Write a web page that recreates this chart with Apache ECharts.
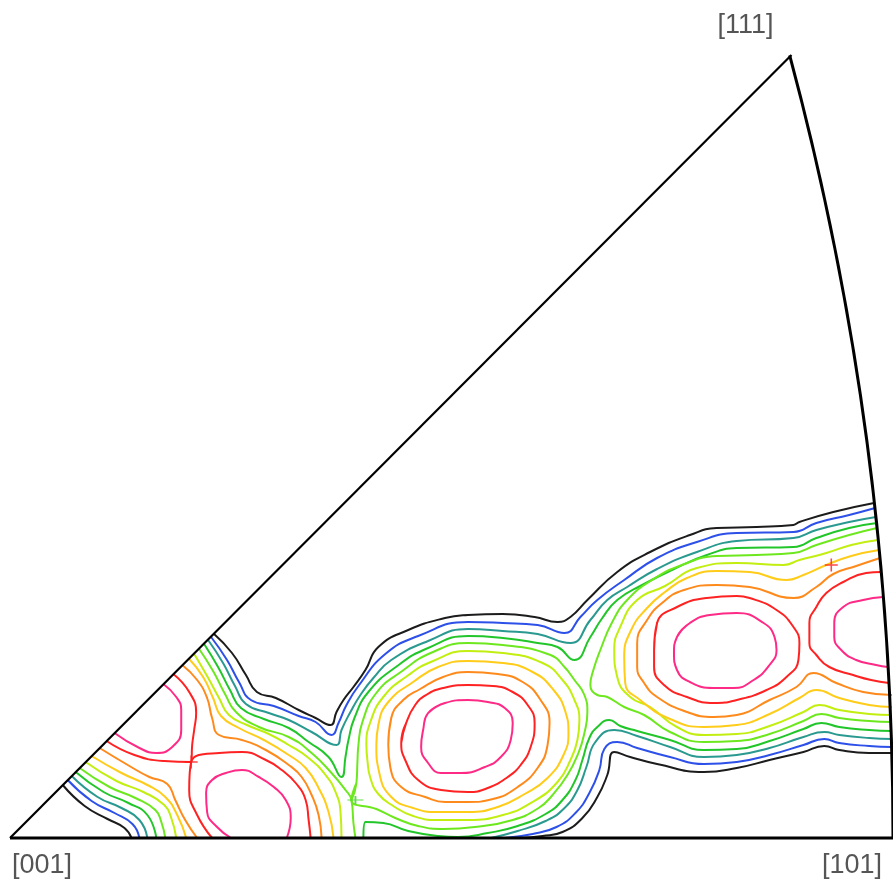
<!DOCTYPE html>
<html>
<head>
<meta charset="utf-8">
<script src="https://cdn.jsdelivr.net/npm/echarts@6/dist/echarts.min.js"></script>
<style>
  html, body { margin: 0; padding: 0; background: #ffffff; }
  #chart { width: 893px; height: 888px; }
</style>
</head>
<body>
<div id="chart"></div>
<script>
// Inverse pole figure: stereographic standard triangle [001]-[101]-[111].
// Positions are projection coordinates measured from [001]
// (x along [100], y along [010]; 1 unit = 1/2142 of the sphere radius).

const poles = [
  { name: '[001]', x: 0,   y: 0 },
  { name: '[101]', x: 887, y: 0 },
  { name: '[111]', x: 785, y: 783 }
];
// great circle through [101] and [111] projects to a circle about this point
const arcCentre = [-2142, 0];

// contour levels, lowest (outermost) first; each level is a list of polylines
const level1 = [
  [[205,204],[223,185],[237,163],[248,146],[267,140],[290,128],[307,120],[322,113],[328,126],[335,138],[345,151],[357,168],[370,191],[400,208],[437,220],[460,223],[495,224],[527,221],[550,216],[563,221],[580,238],[610,266],[643,286],[683,303],[710,310],[750,311],[787,313],[793,316],[827,326],[868,335]],
  [[512,0],[535,2],[555,6],[575,20],[590,41],[600,63],[607,86],[623,81],[650,74],[697,66],[730,70],[763,78],[797,86],[818,92],[833,88],[863,85],[886,85]],
  [[53,53],[75,32],[98,19],[115,10],[122,0]]
];
const level2 = [
  [[202,201],[218,178],[230,156],[242,138],[265,132],[290,122],[307,116],[323,103],[330,115],[338,133],[350,152],[377,184],[410,202],[460,216],[495,215],[530,213],[557,205],[573,221],[590,238],[617,258],[650,280],[690,296],[730,305],[787,306],[810,315],[843,323],[869,330]],
  [[497,0],[525,4],[549,11],[568,25],[582,45],[592,68],[597,89],[610,96],[630,90],[663,81],[697,74],[730,76],[763,83],[797,93],[818,99],[833,95],[863,92],[886,91]],
  [[58,58],[82,37],[105,25],[123,14],[130,0]]
];
const level3 = [
  [[199,198],[214,175],[226,152],[237,134],[260,125],[280,118],[303,106],[328,93],[333,108],[342,126],[352,143],[365,160],[383,178],[420,197],[460,209],[495,207],[530,204],[563,195],[583,218],[600,238],[620,251],[650,269],[690,286],[730,297],[787,300],[810,308],[843,316],[870,321]],
  [[483,0],[510,7],[538,17],[556,29],[570,48],[579,71],[588,96],[607,108],[630,102],[663,91],[697,81],[730,83],[763,90],[797,101],[818,106],[833,103],[863,100],[886,99]],
  [[62,62],[88,41],[112,30],[130,18],[138,0]]
];
const level4 = [
  [[195,194],[209,171],[221,148],[232,130],[255,119],[280,110],[300,96],[320,81],[333,61],[337,81],[340,98],[346,120],[360,146],[389,172],[420,190],[460,202],[495,200],[530,195],[550,191],[567,178],[583,201],[595,220],[610,238],[635,253],[667,269],[700,283],[730,290],[787,291],[810,300],[843,310],[871,315]],
  [[355,0],[357,16],[375,15],[400,7],[430,2],[450,1],[480,5],[510,12],[538,24],[555,38],[568,58],[575,78],[582,100],[590,111],[602,118],[613,112],[630,107],[663,98],[697,88],[730,89],[763,97],[797,109],[815,115],[833,111],[863,108],[886,107]],
  [[66,66],[94,46],[119,35],[138,23],[147,0]]
];
const level5 = [
  [[190,189],[204,167],[216,144],[227,126],[250,111],[280,101],[303,85],[323,65],[337,48],[343,38],[345,15],[347,0]],
  [[343,38],[348,55],[349,76],[350,93],[354,116],[368,145],[394,167],[425,186],[460,195],[495,193],[543,183],[557,171],[567,158],[577,143],[580,126],[577,105],[571,85],[560,63],[545,43],[531,30],[505,18],[467,11],[435,9],[410,12],[387,20],[368,29],[343,38]],
  [[871,310],[843,303],[810,293],[787,285],[750,283],[710,282],[675,273],[645,258],[620,238],[605,216],[593,188],[586,168],[583,153],[590,143],[600,141],[617,131],[637,123],[663,106],[697,96],[730,97],[763,104],[797,117],[815,124],[833,120],[863,117],[886,116]],
  [[70,70],[100,51],[126,40],[146,28],[152,16],[156,0]]
];
const level6 = [
  [[185,184],[198,162],[210,140],[220,123],[238,113],[260,104],[280,93],[300,80],[317,63],[327,46],[332,26],[333,0]],
  [[359,78],[358,93],[362,116],[375,141],[399,162],[425,177],[460,187],[495,185],[535,175],[555,158],[567,138],[572,118],[570,98],[563,78],[550,56],[525,36],[495,23],[460,18],[430,18],[405,22],[385,32],[370,44],[362,60],[359,78]],
  [[872,298],[845,293],[820,285],[793,278],[777,273],[730,275],[690,270],[658,252],[630,238],[613,211],[607,188],[610,161],[623,141],[643,131],[670,111],[697,103],[730,104],[763,112],[797,126],[813,133],[833,128],[863,124],[886,123]],
  [[76,76],[107,57],[134,46],[155,33],[162,20],[167,0]]
];
const level7 = [
  [[82,82],[112,65],[138,53],[156,41],[168,23],[177,0]],
  [[180,179],[194,161],[204,140],[212,122],[230,110],[255,98],[280,83],[297,70],[310,50],[320,26],[325,0]],
  [[368,93],[370,113],[380,136],[405,156],[430,171],[460,177],[495,175],[525,166],[546,148],[558,126],[561,105],[556,83],[540,60],[517,44],[490,31],[460,26],[430,26],[405,30],[383,41],[371,65],[368,93]],
  [[873,288],[845,282],[820,273],[797,263],[780,258],[743,266],[710,267],[680,260],[658,246],[640,230],[624,208],[617,181],[618,155],[633,138],[663,119],[697,111],[730,113],[763,124],[793,140],[810,148],[833,140],[863,133],[886,131]]
];
const level8 = [
  [[90,90],[120,72],[140,61],[158,54],[166,38],[176,18],[188,0]],
  [[173,173],[188,158],[198,140],[203,120],[210,103],[233,98],[257,88],[280,73],[293,61],[303,43],[310,23],[313,0]],
  [[380,93],[383,120],[395,138],[412,149],[435,161],[460,166],[490,164],[515,156],[533,138],[542,115],[540,93],[530,70],[510,51],[485,39],[460,36],[437,36],[417,41],[393,51],[382,71],[380,93]],
  [[874,280],[850,272],[827,264],[810,251],[787,240],[743,251],[710,253],[677,248],[655,235],[640,218],[630,195],[630,171],[637,155],[650,141],[680,126],[707,121],[730,123],[763,138],[790,151],[807,165],[830,155],[857,146],[886,143]]
];
const level9 = [
  [[97,97],[125,83],[155,77],[182,76],[183,93],[185,108],[187,125],[180,146],[164,164]],
  [[203,0],[188,23],[180,48],[182,76],[210,85],[233,86],[257,78],[273,68],[287,55],[297,38],[300,18],[302,0]],
  [[393,95],[398,115],[407,133],[418,143],[435,150],[460,153],[485,152],[505,146],[520,133],[527,115],[523,91],[513,73],[500,61],[480,50],[460,46],[433,48],[410,58],[397,78],[393,95]],
  [[647,188],[650,215],[670,231],[700,240],[730,242],[743,240],[770,228],[787,211],[793,195],[792,178],[780,161],[760,148],[730,138],[707,135],[680,141],[657,153],[647,171],[647,188]],
  [[875,266],[860,265],[837,256],[820,245],[810,231],[803,215],[803,195],[810,183],[823,171],[847,163],[865,158],[883,155]]
];
const level10 = [
  [[105,105],[130,90],[147,85],[163,91],[172,108],[172,128],[167,141],[154,154]],
  [[222,0],[208,11],[198,26],[197,45],[203,58],[217,65],[233,68],[250,61],[265,51],[277,38],[282,20],[278,0]],
  [[420,125],[437,135],[460,138],[480,136],[497,130],[505,115],[503,98],[493,81],[477,71],[453,65],[433,65],[420,75],[413,91],[415,108],[420,125]],
  [[670,201],[683,215],[703,223],[730,225],[757,215],[768,201],[770,188],[763,173],[747,158],[727,150],[707,150],[683,156],[670,168],[667,185],[670,201]],
  [[877,241],[857,238],[837,231],[828,215],[828,201],[835,188],[850,178],[870,173],[882,171]]
];

// small cross marks
const redMarks = [[825,273],[182,76]];
const greenMarks = [[347,38]];

const contourLevels = [level1, level2, level3, level4, level5, level6, level7, level8, level9, level10];
const levelColours = ['#1c1c1c', '#2d50e8', '#2a9a90', '#22c62a', '#6ee81e', '#c2ee10', '#ffcc1a', '#ff8a1c', '#ff2222', '#ff2a86'];

// label placement around each pole (pixels)
const poleLabelOffset = { '[001]': [32, 28], '[101]': [-41, 28], '[111]': [-46, -29] };

const chart = echarts.init(document.getElementById('chart'), null, { renderer: 'canvas' });

const series = [];

function isClosed(poly) {
  const a = poly[0], b = poly[poly.length - 1];
  return a[0] === b[0] && a[1] === b[1];
}

contourLevels.forEach(function (lines, i) {
  lines.forEach(function (poly) {
    // closed loops: carry the path one vertex past the start so the join is smooth too
    const pts = isClosed(poly) ? poly.concat([poly[1]]) : poly;
    series.push({
      type: 'line',
      data: pts,
      smooth: 0.5,
      symbol: 'none',
      silent: true,
      clip: false,
      z: 2,
      lineStyle: { color: levelColours[i], width: 2 }
    });
  });
});

// triangle frame: two straight edges and the great-circle arc [101]-[111]
series.push({
  type: 'custom',
  coordinateSystem: 'cartesian2d',
  data: [[0, 0]],
  silent: true,
  z: 5,
  renderItem: function (params, api) {
    const p001 = api.coord([poles[0].x, poles[0].y]);
    const p101 = api.coord([poles[1].x, poles[1].y]);
    const p111 = api.coord([poles[2].x, poles[2].y]);
    const c = api.coord(arcCentre);
    const r = Math.hypot(p101[0] - c[0], p101[1] - c[1]);
    const aStart = Math.atan2(p111[1] - c[1], p111[0] - c[0]);
    const aEnd = Math.atan2(p101[1] - c[1], p101[0] - c[0]);
    return {
      type: 'group',
      children: [
        { type: 'line', shape: { x1: p001[0], y1: p001[1], x2: p111[0], y2: p111[1] },
          style: { stroke: '#000', lineWidth: 2.2 } },
        { type: 'line', shape: { x1: p001[0], y1: p001[1], x2: p101[0], y2: p101[1] },
          style: { stroke: '#000', lineWidth: 3 } },
        { type: 'arc', shape: { cx: c[0], cy: c[1], r: r, startAngle: aStart, endAngle: aEnd, clockwise: true },
          style: { stroke: '#000', fill: null, lineWidth: 3 } }
      ]
    };
  }
});

const crossPath = 'path://M0,4.4H10V5.6H0ZM4.4,0H5.6V10H4.4Z';
series.push({
  type: 'scatter', data: redMarks, symbol: crossPath, symbolSize: 13,
  itemStyle: { color: '#ff1a1a' }, silent: true, z: 4
});
series.push({
  type: 'scatter', data: greenMarks, symbol: crossPath, symbolSize: [16, 8],
  itemStyle: { color: '#3ad21e' }, silent: true, z: 4
});

// pole labels
series.push({
  type: 'scatter',
  symbolSize: 0,
  silent: true,
  z: 6,
  data: poles.map(function (p) {
    return {
      name: p.name,
      value: [p.x, p.y],
      label: { offset: poleLabelOffset[p.name] }
    };
  }),
  label: {
    show: true,
    position: 'inside',
    formatter: '{b}',
    fontFamily: 'Liberation Sans, Arial, sans-serif',
    fontSize: 27,
    color: '#2a2a2a',
    align: 'center',
    verticalAlign: 'middle'
  }
});

chart.setOption({
  animation: false,
  backgroundColor: '#ffffff',
  grid: { left: 10, top: 0, width: 887, height: 838, containLabel: false },
  xAxis: { type: 'value', min: 0, max: 887, show: false },
  yAxis: { type: 'value', min: 0, max: 838, show: false },
  series: series
});
</script>
</body>
</html>
